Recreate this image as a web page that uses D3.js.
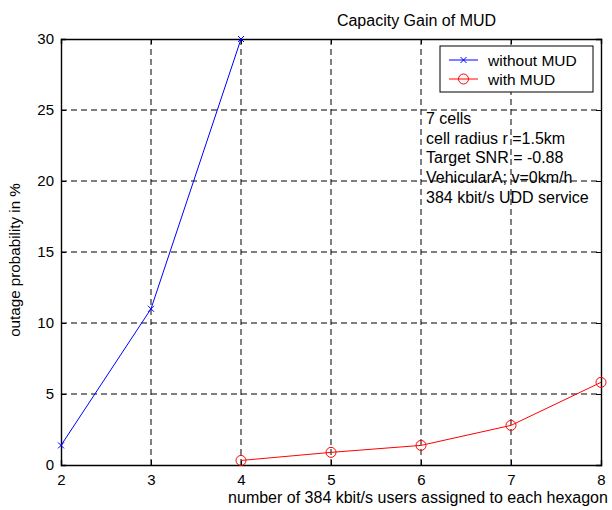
<!DOCTYPE html>
<html><head><meta charset="utf-8">
<script src="https://cdn.jsdelivr.net/npm/d3@7"></script>
<style>body{margin:0;background:#fff}svg{display:block}text{font-family:Arial,"Liberation Sans",sans-serif;}</style>
</head><body><svg id="c" width="612" height="510"></svg>
<script>
const xTicks = [2,3,4,5,6,7,8];
const yTicks = [0,5,10,15,20,25,30];
const withoutX = [2,3,4];
const withoutY = [1.38,11.0,30.0];
const withX = [4,5,6,7,8];
const withY = [0.32,0.89,1.38,2.79,5.82];
const seriesNames = ["without MUD","with MUD"];
const notes = ["7 cells","cell radius r =1.5km","Target SNR = -0.88","VehicularA; v=0km/h","384 kbit/s UDD service"];

const svg = d3.select("#c");
const L=61,R=601,T=39,B=465;
const x = d3.scaleLinear().domain([2,8]).range([L,R]);
const y = d3.scaleLinear().domain([0,30]).range([B,T]);

const g = svg.append("g");
// grid
g.selectAll(".gx").data(xTicks.slice(1,-1)).enter().append("line")
 .attr("x1",d=>x(d)).attr("x2",d=>x(d)).attr("y1",T).attr("y2",B)
 .attr("stroke","#000").attr("stroke-dasharray","6,4").attr("stroke-width",1);
g.selectAll(".gy").data(yTicks.slice(1,-1)).enter().append("line")
 .attr("y1",d=>y(d)).attr("y2",d=>y(d)).attr("x1",L).attr("x2",R)
 .attr("stroke","#000").attr("stroke-dasharray","6,4").attr("stroke-width",1);

// axes
const xa = svg.append("g").attr("transform",`translate(0,${B})`)
 .call(d3.axisBottom(x).tickValues(xTicks).tickSize(-5).tickPadding(9).tickFormat(d3.format("d")));
const ya = svg.append("g").attr("transform",`translate(${L},0)`)
 .call(d3.axisLeft(y).tickValues(yTicks).tickSize(-5).tickPadding(7).tickFormat(d3.format("d")));
const xt = svg.append("g").attr("transform",`translate(0,${T})`)
 .call(d3.axisTop(x).tickValues(xTicks).tickSize(-5).tickFormat(""));
const yr = svg.append("g").attr("transform",`translate(${R},0)`)
 .call(d3.axisRight(y).tickValues(yTicks).tickSize(-5).tickFormat(""));
[xa,ya,xt,yr].forEach(a=>{
  a.select(".domain").attr("stroke","#000").attr("stroke-width",1.4);
  a.selectAll("text").attr("font-size",15).attr("fill","#000").style("font-family","Arial,'Liberation Sans',sans-serif");
});

// lines
const line = d3.line().x(d=>x(d[0])).y(d=>y(d[1]));
const d1 = withoutX.map((v,i)=>[v,withoutY[i]]);
const d2 = withX.map((v,i)=>[v,withY[i]]);
svg.append("path").attr("d",line(d1)).attr("fill","none").attr("stroke","#0000ff").attr("stroke-width",1);
svg.append("path").attr("d",line(d2)).attr("fill","none").attr("stroke","#ff0000").attr("stroke-width",1);
const cross = (sel,cx,cy,s)=>{
  sel.append("path").attr("d",`M${cx-s},${cy-s}L${cx+s},${cy+s}M${cx-s},${cy+s}L${cx+s},${cy-s}`)
   .attr("stroke","#0000ff").attr("stroke-width",1).attr("fill","none");
};
d1.forEach(d=>cross(svg,x(d[0]),y(d[1]),3));
svg.selectAll(".cm").data(d2).enter().append("circle")
 .attr("cx",d=>x(d[0])).attr("cy",d=>y(d[1])).attr("r",5)
 .attr("fill","none").attr("stroke","#ff0000").attr("stroke-width",1);

// legend
const lg = svg.append("g");
lg.append("rect").attr("x",440).attr("y",46).attr("width",153).attr("height",46)
 .attr("fill","#fff").attr("stroke","#000").attr("stroke-width",1);
lg.append("line").attr("x1",449).attr("x2",478).attr("y1",60).attr("y2",60).attr("stroke","#0000ff");
cross(lg,463.5,60,3);
lg.append("text").attr("x",488).attr("y",65.5).attr("font-size",15.5).text(seriesNames[0]);
lg.append("line").attr("x1",449).attr("x2",478).attr("y1",79).attr("y2",79).attr("stroke","#ff0000");
lg.append("circle").attr("cx",463.5).attr("cy",79).attr("r",5).attr("fill","none").attr("stroke","#ff0000");
lg.append("text").attr("x",488).attr("y",84.5).attr("font-size",15.5).text(seriesNames[1]);

// notes
svg.selectAll(".note").data(notes).enter().append("text")
 .attr("x",426).attr("y",(d,i)=>124+i*19.7).attr("font-size",16).attr("fill","#000").text(d=>d);

// title and labels
svg.append("text").attr("x",416.5).attr("y",25.5).attr("text-anchor","middle").attr("font-size",16).text("Capacity Gain of MUD");
svg.append("text").attr("x",418).attr("y",503).attr("text-anchor","middle").attr("font-size",16).text("number of 384 kbit/s users assigned to each hexagon");
svg.append("text").attr("transform","translate(20,260) rotate(-90)").attr("text-anchor","middle").attr("font-size",15.2).text("outage probability in %");
</script></body></html>
